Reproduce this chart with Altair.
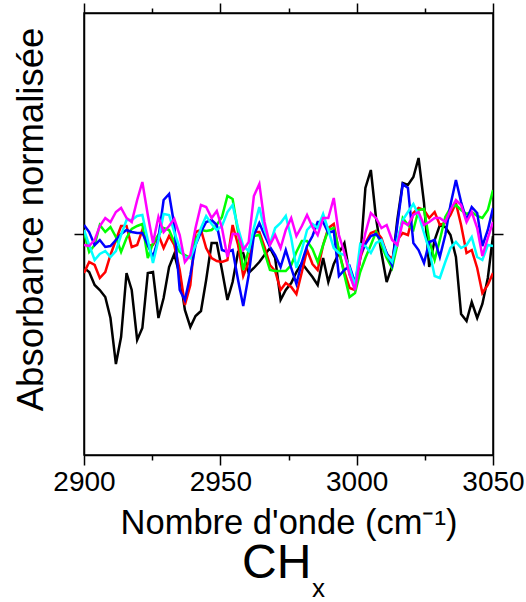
import altair as alt
import pandas as pd

# Wavenumber sampling (cm-1)
wavenumbers = [2900.0, 2901.9, 2903.9, 2905.8, 2907.8, 2909.7, 2911.7, 2913.6, 2915.6, 2917.5,
               2919.5, 2921.4, 2923.4, 2925.3, 2927.3, 2929.2, 2931.2, 2933.1, 2935.1, 2937.0,
               2939.0, 2940.9, 2942.9, 2944.8, 2946.8, 2948.7, 2950.6, 2952.6, 2954.5, 2956.5,
               2958.4, 2960.4, 2962.3, 2964.3, 2966.2, 2968.2, 2970.1, 2972.1, 2974.0, 2976.0,
               2977.9, 2979.9, 2981.8, 2983.8, 2985.7, 2987.7, 2989.6, 2991.6, 2993.5, 2995.5,
               2997.4, 2999.4, 3001.3, 3003.2, 3005.2, 3007.1, 3009.1, 3011.0, 3013.0, 3014.9,
               3016.9, 3018.8, 3020.8, 3022.7, 3024.7, 3026.6, 3028.6, 3030.5, 3032.5, 3034.4,
               3036.4, 3038.3, 3040.3, 3042.2, 3044.2, 3046.1, 3048.1, 3050.0]

spectre_noir = [-0.034, -0.038, -0.051, -0.056, -0.063, -0.084, -0.130, -0.103, -0.039, -0.056,
                -0.106, -0.094, -0.039, -0.038, -0.084, -0.064, -0.033, -0.020, -0.041, -0.076,
                -0.093, -0.082, -0.077, -0.046, -0.009, -0.009, -0.036, -0.066, -0.048, -0.018,
                -0.019, -0.039, -0.034, -0.028, -0.021, -0.014, -0.024, -0.066, -0.056, -0.049,
                -0.038, -0.029, -0.036, -0.043, -0.051, -0.024, -0.048, -0.030, -0.019, -0.009,
                -0.040, -0.054, -0.024, 0.046, 0.064, 0.016, -0.019, -0.048, -0.032, 0.014,
                0.051, 0.049, 0.057, 0.076, 0.031, -0.033, -0.006, 0.009, 0.007, -0.001,
                -0.023, -0.080, -0.087, -0.068, -0.084, -0.070, -0.044, -0.002]

spectre_rouge = [-0.039, -0.028, -0.031, -0.044, -0.038, -0.021, -0.006, 0.008, 0.008, -0.013,
                 -0.011, 0.004, -0.012, -0.011, -0.001, -0.014, -0.002, -0.011, -0.036, -0.071,
                 -0.051, 0.002, 0.004, -0.014, -0.024, -0.027, -0.028, -0.026, 0.009, -0.011,
                 -0.042, -0.028, 0.002, 0.002, -0.013, -0.031, -0.037, -0.056, -0.049, -0.053,
                 -0.060, -0.038, -0.016, -0.030, -0.036, -0.011, 0.006, 0.010, -0.018, -0.038,
                 -0.054, -0.056, -0.024, -0.009, 0.001, 0.003, -0.004, -0.020, -0.025, -0.006,
                 0.001, -0.001, 0.021, 0.026, 0.024, 0.016, 0.022, 0.009, 0.011, 0.019,
                 0.031, 0.009, -0.019, -0.016, -0.034, -0.059, -0.051, -0.039]

spectre_vert = [0.002, -0.018, -0.011, 0.009, 0.002, 0.007, -0.003, -0.018, -0.004, 0.005,
                0.008, 0.010, -0.024, -0.009, -0.001, 0.006, 0.004, -0.008, -0.018, -0.021,
                -0.024, -0.006, 0.004, 0.003, 0.004, 0.009, 0.017, 0.038, 0.035, 0.002,
                -0.036, -0.016, -0.002, -0.001, -0.018, -0.036, -0.037, -0.037, -0.037, -0.031,
                -0.018, -0.007, -0.007, -0.015, -0.028, -0.011, 0.004, 0.006, -0.016, -0.041,
                -0.063, -0.059, -0.038, -0.024, -0.011, 0.002, -0.011, -0.024, -0.034, -0.011,
                0.016, 0.009, 0.004, 0.024, 0.025, -0.006, -0.026, -0.006, 0.017, 0.026,
                0.029, 0.024, 0.020, 0.022, 0.018, 0.016, 0.024, 0.044]

spectre_bleu = [0.009, 0.002, -0.011, -0.006, -0.013, -0.012, -0.006, 0.000, 0.004, 0.002,
                0.001, 0.001, -0.011, -0.023, -0.004, 0.034, 0.040, 0.009, -0.056, -0.066,
                -0.041, -0.011, 0.002, 0.012, 0.014, 0.009, -0.016, -0.018, -0.016, -0.046,
                -0.072, -0.041, -0.001, 0.011, -0.001, -0.013, -0.021, -0.033, -0.016, -0.034,
                -0.050, -0.028, -0.012, -0.002, 0.012, 0.012, 0.001, 0.003, -0.042, -0.036,
                -0.032, -0.049, -0.021, -0.010, -0.002, 0.000, -0.007, -0.019, -0.031, 0.009,
                0.050, 0.046, -0.009, -0.016, -0.029, -0.008, -0.006, -0.023, -0.001, 0.029,
                0.054, 0.032, 0.014, 0.027, 0.021, -0.012, 0.004, 0.026]

spectre_cyan = [0.004, -0.011, -0.026, -0.020, -0.017, -0.023, -0.017, -0.001, 0.014, 0.014,
                0.018, 0.019, -0.006, -0.029, -0.006, 0.020, 0.019, 0.002, -0.014, -0.023,
                -0.024, -0.011, 0.006, 0.018, 0.010, 0.004, 0.008, 0.022, 0.029, 0.006,
                -0.012, -0.017, 0.006, 0.027, 0.004, -0.010, 0.006, 0.011, 0.018, -0.004,
                -0.034, -0.016, 0.004, 0.010, 0.006, 0.020, 0.004, -0.014, -0.019, -0.021,
                -0.034, -0.052, -0.010, -0.012, -0.019, -0.009, -0.006, -0.021, -0.028, -0.006,
                0.014, 0.022, 0.030, 0.019, 0.001, -0.016, -0.042, -0.044, -0.028, -0.014,
                -0.008, -0.014, -0.011, -0.003, -0.023, -0.026, -0.011, -0.012]

spectre_magenta = [-0.011, -0.012, -0.006, 0.008, 0.016, 0.012, 0.022, 0.026, 0.016, 0.012,
                   0.034, 0.052, 0.019, -0.009, 0.017, 0.002, 0.008, 0.015, -0.001, -0.028,
                   -0.021, 0.006, 0.029, 0.027, 0.016, 0.023, 0.006, -0.023, 0.000, 0.000,
                   -0.016, -0.008, 0.038, 0.050, 0.012, -0.011, -0.001, -0.014, 0.004, 0.016,
                   -0.002, 0.008, 0.019, 0.007, -0.001, 0.016, 0.016, 0.036, -0.001, -0.019,
                   -0.041, -0.056, -0.023, 0.001, 0.021, 0.016, 0.006, 0.009, -0.006, -0.011,
                   0.012, 0.009, 0.019, 0.022, 0.009, 0.012, 0.016, 0.016, 0.012, 0.024,
                   0.034, 0.029, 0.012, 0.022, 0.006, -0.022, -0.004, 0.012]

series_names = ["Spectre 1", "Spectre 2", "Spectre 3", "Spectre 4", "Spectre 5", "Spectre 6"]
series_colors = ["#000000", "#ff0000", "#00ff00", "#0000ff", "#00ffff", "#ff00ff"]
series_values = [spectre_noir, spectre_rouge, spectre_vert, spectre_bleu, spectre_cyan, spectre_magenta]

x_ticks = [2900, 2925, 2950, 2975, 3000, 3025, 3050]

rows = []
for name, vals in zip(series_names, series_values):
    for w, v in zip(wavenumbers, vals):
        rows.append({"wn": w, "absorbance": v, "serie": name})
df = pd.DataFrame(rows)

xscale = alt.Scale(domain=[2900, 3050], nice=False, zero=False)
yscale = alt.Scale(domain=[-0.221, 0.221], nice=False, zero=False)
color = alt.Color("serie:N", scale=alt.Scale(domain=series_names, range=series_colors), legend=None)

tick_cond = {"condition": {"test": "datum.value % 50 === 0", "value": 10}, "value": 5}

axis_common = dict(domainColor="black", domainWidth=1.5, tickColor="black", tickWidth=1.5, grid=False)

bottom_axis = alt.Axis(orient="bottom", values=x_ticks, format="d",
                       labelExpr="datum.value % 50 === 0 ? datum.label : ''",
                       tickSize=tick_cond, labelPadding=3, labelFontSize=28, labelColor="black",
                       labelFlush=False, labelOverlap=False,
                       title="Nombre d'onde (cm⁻¹)", titleFontSize=34.5, titlePadding=10,
                       **axis_common)
top_axis = alt.Axis(orient="top", values=x_ticks, labels=False, tickSize=tick_cond, title=None,
                    **axis_common)
left_axis = alt.Axis(orient="left", values=[0], labels=False, tickSize=10,
                     title="Absorbance normalisée", titleFontSize=36.5, titlePadding=23,
                     titleY=206,
                     **axis_common)
right_axis = alt.Axis(orient="right", values=[0], labels=False, tickSize=10, title=None,
                      **axis_common)

lines = alt.Chart(df).mark_line(strokeWidth=2.5, clip=True).encode(
    x=alt.X("wn:Q", scale=xscale, axis=bottom_axis),
    y=alt.Y("absorbance:Q", scale=yscale, axis=left_axis),
    color=color,
)

frame = alt.Chart(df).mark_line(opacity=0).encode(
    x=alt.X("wn:Q", scale=xscale, axis=top_axis),
    y=alt.Y("absorbance:Q", scale=yscale, axis=right_axis),
    detail="serie:N",
)

ch_text = alt.Chart(pd.DataFrame({"t": ["CH"]})).mark_text(
    fontSize=48, font="Liberation Sans", align="left", baseline="alphabetic", color="black"
).encode(text="t:N", x=alt.value(158), y=alt.value(565))

sub_text = alt.Chart(pd.DataFrame({"t": ["x"]})).mark_text(
    fontSize=26, font="Liberation Sans", align="left", baseline="alphabetic", color="black"
).encode(text="t:N", x=alt.value(228), y=alt.value(584))

chart = alt.layer(lines, frame, ch_text, sub_text).resolve_axis(
    x="independent", y="independent"
).properties(
    width=409, height=442,
    autosize=alt.AutoSizeParams(type="none"),
    padding={"left": 84, "top": 13, "right": 33, "bottom": 147},
).configure_axis(
    labelFont="Liberation Sans", titleFont="Liberation Sans", titleFontWeight="normal",
    titleColor="black",
).configure_view(stroke="black", strokeWidth=1.5)

chart.save("out.html", embed_options={"renderer": "svg", "actions": False})
